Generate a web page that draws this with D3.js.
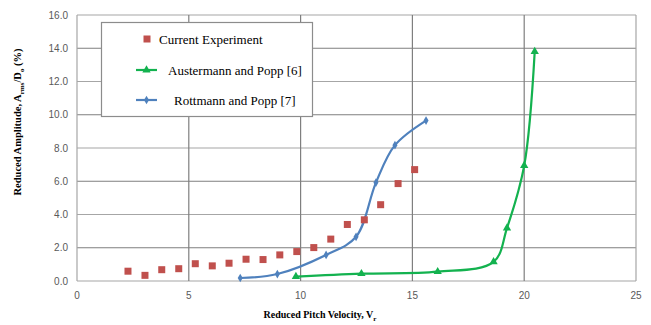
<!DOCTYPE html>
<html>
<head>
<meta charset="utf-8">
<script src="https://cdn.jsdelivr.net/npm/d3@7"></script>
<style>
  body { margin: 0; background: #fff; }
  svg { display: block; }
</style>
</head>
<body>
<div id="chart"></div>
<script>
// current experiment (squares)
var expX = [2.28, 3.04, 3.79, 4.55, 5.29, 6.05, 6.80, 7.56, 8.32, 9.07, 9.83, 10.59, 11.35, 12.09, 12.85, 13.58, 14.36, 15.10];
var expY = [0.59, 0.34, 0.68, 0.74, 1.04, 0.91, 1.07, 1.31, 1.29, 1.57, 1.77, 2.01, 2.52, 3.40, 3.68, 4.59, 5.86, 6.70];

// Austermann and Popp [6]
var ausX = [9.79, 12.72, 16.13, 18.63, 19.23, 20.00, 20.47];
var ausY = [0.26, 0.44, 0.56, 1.15, 3.18, 6.94, 13.80];

// Rottmann and Popp [7]
var rotX = [7.30, 8.96, 11.14, 12.48, 13.37, 14.22, 15.61];
var rotY = [0.18, 0.42, 1.57, 2.66, 5.92, 8.17, 9.65];

var xTicks = [0, 5, 10, 15, 20, 25];
var yTicks = [0, 2, 4, 6, 8, 10, 12, 14, 16];

var width = 651, height = 325;
var margin = {left: 77, right: 15, top: 15, bottom: 44};

var svg = d3.select("#chart").append("svg")
    .attr("width", width)
    .attr("height", height);

var x = d3.scaleLinear().domain([0, 25]).range([margin.left, width - margin.right]);
var y = d3.scaleLinear().domain([0, 16]).range([height - margin.bottom, margin.top]);

// grid lines
svg.append("g")
    .selectAll("line")
    .data(yTicks)
    .enter().append("line")
    .attr("x1", x(0)).attr("x2", x(25))
    .attr("y1", function (d) { return y(d); })
    .attr("y2", function (d) { return y(d); })
    .attr("stroke", function (d, i) { return i % 2 ? "#7f7f7f" : "#a6a6a6"; })
    .attr("stroke-width", 1.2);

svg.append("g")
    .selectAll("line")
    .data(xTicks)
    .enter().append("line")
    .attr("x1", function (d) { return x(d); })
    .attr("x2", function (d) { return x(d); })
    .attr("y1", y(0)).attr("y2", y(16))
    .attr("stroke", function (d) { return d === 0 || d === 25 ? "#a6a6a6" : "#7f7f7f"; })
    .attr("stroke-width", 1.2);

// tick labels
svg.append("g")
    .selectAll("text")
    .data(yTicks)
    .enter().append("text")
    .attr("x", x(0) - 9)
    .attr("y", function (d) { return y(d); })
    .attr("dy", "0.35em")
    .attr("text-anchor", "end")
    .style("font", "10px 'Liberation Sans', Arial, sans-serif")
    .style("fill", "#595959")
    .text(function (d) { return d.toFixed(1); });

svg.append("g")
    .selectAll("text")
    .data(xTicks)
    .enter().append("text")
    .attr("x", function (d) { return x(d); })
    .attr("y", y(0) + 18)
    .attr("text-anchor", "middle")
    .style("font", "10px 'Liberation Sans', Arial, sans-serif")
    .style("fill", "#595959")
    .text(function (d) { return d; });

// axis titles
var xt = svg.append("text")
    .attr("x", 320)
    .attr("y", 318)
    .attr("text-anchor", "middle")
    .style("font", "bold 10px 'Liberation Serif', 'Times New Roman', serif")
    .style("fill", "#000");
xt.append("tspan").text("Reduced Pitch Velocity, V");
xt.append("tspan").attr("dy", 3).style("font-size", "7px").text("r");

var yt = svg.append("text")
    .attr("transform", "translate(21,122) rotate(-90)")
    .attr("text-anchor", "middle")
    .style("font", "bold 10.5px 'Liberation Serif', 'Times New Roman', serif")
    .style("fill", "#000");
yt.append("tspan").text("Reduced Amplitude,  A");
yt.append("tspan").attr("dy", 3).style("font-size", "7px").text("rms");
yt.append("tspan").attr("dy", -3).text("/D");
yt.append("tspan").attr("dy", 3).style("font-size", "7px").text("o");
yt.append("tspan").attr("dy", -3).text(" (%)");

var line = d3.line()
    .x(function (d) { return x(d[0]); })
    .y(function (d) { return y(d[1]); })
    .curve(d3.curveCatmullRom.alpha(0.5));

var rotData = d3.zip(rotX, rotY);
var ausData = d3.zip(ausX, ausY);
var expData = d3.zip(expX, expY);

var blue = "#4f81bd", green = "#13b24f", red = "#c0504d";

// Rottmann line
svg.append("path")
    .datum(rotData)
    .attr("d", line)
    .attr("fill", "none")
    .attr("stroke", blue)
    .attr("stroke-width", 2.2);

svg.append("g")
    .selectAll("path")
    .data(rotData)
    .enter().append("path")
    .attr("transform", function (d) { return "translate(" + x(d[0]) + "," + y(d[1]) + ")"; })
    .attr("d", d3.symbol().type(d3.symbolDiamond).size(22))
    .attr("fill", blue);

// Austermann line
svg.append("path")
    .datum(ausData)
    .attr("d", line)
    .attr("fill", "none")
    .attr("stroke", green)
    .attr("stroke-width", 2.2);

svg.append("g")
    .selectAll("path")
    .data(ausData)
    .enter().append("path")
    .attr("transform", function (d) { return "translate(" + x(d[0]) + "," + y(d[1]) + ")"; })
    .attr("d", d3.symbol().type(d3.symbolTriangle).size(30))
    .attr("fill", green);

// experiment squares
svg.append("g")
    .selectAll("rect")
    .data(expData)
    .enter().append("rect")
    .attr("x", function (d) { return x(d[0]) - 3.5; })
    .attr("y", function (d) { return y(d[1]) - 3.5; })
    .attr("width", 7)
    .attr("height", 7)
    .attr("fill", red);

// legend
var lg = svg.append("g");
lg.append("rect")
    .attr("x", 101.5).attr("y", 22.5)
    .attr("width", 211).attr("height", 94)
    .attr("fill", "#fff")
    .attr("stroke", "#8c8c8c")
    .attr("stroke-width", 1.2);

lg.append("rect")
    .attr("x", 143.5).attr("y", 35.5)
    .attr("width", 7).attr("height", 7)
    .attr("fill", red);
lg.append("text").attr("x", 159).attr("y", 39)
    .attr("dy", "0.35em")
    .style("font", "13px 'Liberation Serif', 'Times New Roman', serif")
    .text("Current Experiment");

lg.append("line").attr("x1", 136).attr("x2", 157).attr("y1", 70).attr("y2", 70)
    .attr("stroke", green).attr("stroke-width", 2.2);
lg.append("path").attr("transform", "translate(146.5,70)")
    .attr("d", d3.symbol().type(d3.symbolTriangle).size(30)).attr("fill", green);
lg.append("text").attr("x", 168).attr("y", 70)
    .attr("dy", "0.35em")
    .style("font", "13px 'Liberation Serif', 'Times New Roman', serif")
    .text("Austermann and Popp [6]");

lg.append("line").attr("x1", 136).attr("x2", 157).attr("y1", 100).attr("y2", 100)
    .attr("stroke", blue).attr("stroke-width", 2.2);
lg.append("path").attr("transform", "translate(146.5,100)")
    .attr("d", d3.symbol().type(d3.symbolDiamond).size(22)).attr("fill", blue);
lg.append("text").attr("x", 174).attr("y", 100)
    .attr("dy", "0.35em")
    .style("font", "13px 'Liberation Serif', 'Times New Roman', serif")
    .text("Rottmann and Popp [7]");
</script>
</body>
</html>
